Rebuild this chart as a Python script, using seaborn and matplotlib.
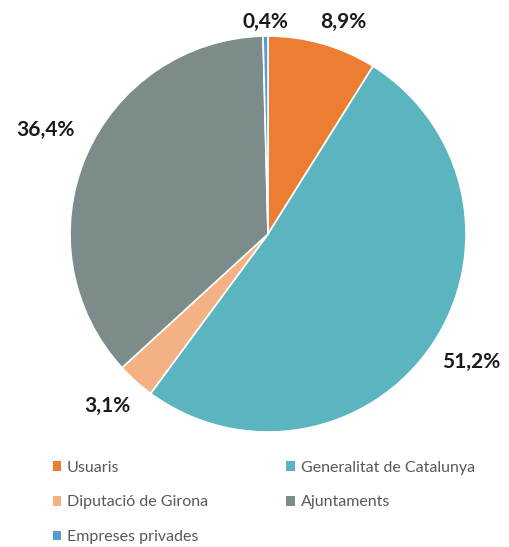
import seaborn as sns
import matplotlib.pyplot as plt
from matplotlib.patches import Patch

categories = ["Usuaris", "Generalitat de Catalunya", "Diputació de Girona",
              "Ajuntaments", "Empreses privades"]
shares = [8.9, 51.2, 3.1, 36.4, 0.4]
colors = ["#ED7D31", "#5BB5C1", "#F4B183", "#7B8C8B", "#5B9BD5"]

sns.set_theme(style="white")
plt.rcParams['font.family'] = ['Lato', 'DejaVu Sans']

fig = plt.figure(figsize=(5.09, 5.47), dpi=100)
ax = fig.add_axes([0, 0, 1, 1])

wedges, texts, autotexts = ax.pie(
    shares, colors=colors, startangle=90, counterclock=False,
    center=(268, 313), radius=198, frame=True,
    autopct=lambda p: f"{p:.1f}%".replace(".", ","), pctdistance=1.23,
    wedgeprops=dict(edgecolor="white", linewidth=1.2),
    textprops=dict(fontsize=15, fontweight="bold", color="#1a1a1a"))
ax.set_xlim(0, 509)
ax.set_ylim(0, 547)
ax.set_aspect('equal')
ax.axis('off')

# side labels sit a little higher in the original
for t in autotexts[1:4]:
    x, y = t.get_position()
    t.set_position((x + 2, y + 9))
# labels: nudge the two at the top apart
autotexts[0].set_position((343, 525))
autotexts[4].set_position((265, 525))

# legend, row-major like the original
order = [0, 2, 4, 1, 3]
handles = [Patch(facecolor=colors[i], edgecolor='none') for i in order]
labels = [categories[i] for i in order]
fig.legend(handles, labels, ncol=2, loc='lower left', bbox_to_anchor=(0.075, -0.021),
           frameon=False, fontsize=11.5, labelcolor="#595959",
           handlelength=0.55, handleheight=0.55, handletextpad=0.35,
           columnspacing=4.9, labelspacing=1.3)

fig.savefig("out.png", dpi=100)
